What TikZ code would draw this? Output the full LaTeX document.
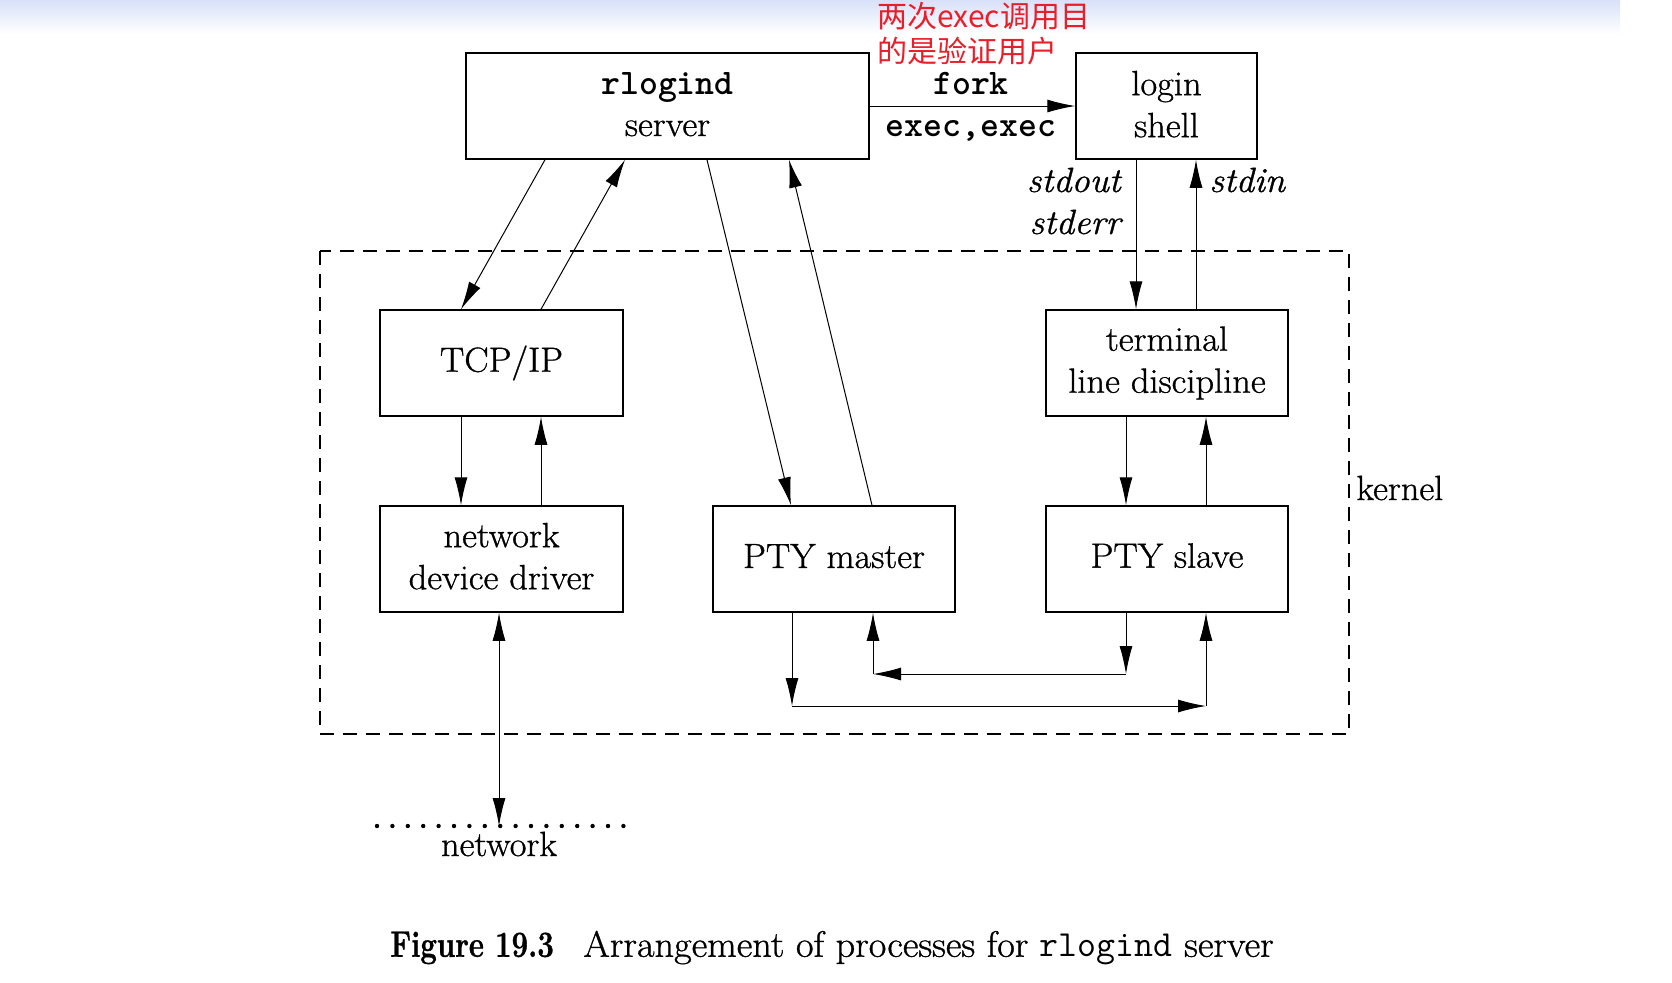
\documentclass[tikz,border=0pt]{standalone}
\usepackage{fontspec}
\setmainfont{Latin Modern Roman}[FakeBold=0.9, FakeStretch=1.04]
\newfontfamily\cjk{Noto Sans CJK SC}
\usetikzlibrary{arrows.meta}
\definecolor{annred}{RGB}{232,30,40}
\definecolor{topblue}{RGB}{216,225,249}
\newcommand\msize{\fontsize{17.5}{21}\selectfont}
\newcommand\codesize{\ttfamily\bfseries\fontsize{18}{21}\selectfont}
\begin{document}
\begin{tikzpicture}[x=0.5pt,y=-0.5pt,
  box/.style={draw, line width=0.75pt, minimum height=53pt, inner sep=0pt, align=center, font=\msize},
  arr/.style={-{Latex[length=14pt,width=6.5pt]}, line width=0.5pt},
  darr/.style={{Latex[length=14pt,width=6.5pt]}-{Latex[length=14pt,width=6.5pt]}, line width=0.5pt},
  lbl/.style={font=\msize, inner sep=0pt},
  kern/.style={draw, line width=0.6pt, dash pattern=on 7pt off 4.5pt}
]
\useasboundingbox (0,0) rectangle (1672,982);
\shade[top color=topblue, bottom color=white] (0,0) rectangle (1620,34);

% boxes
\node[box, minimum width=201.5pt, text depth=2pt] (rl) at (667.5,106) {{\codesize rlogind}\\server};
\node[box, minimum width=90.5pt, text depth=2pt] (ls) at (1166.5,106) {login\\shell};
\node[box, minimum width=121.5pt] (tcp) at (501.5,363) {TCP/IP};
\node[box, minimum width=121.5pt, text depth=3pt] (drv) at (501.5,559) {network\\device driver};
\node[box, minimum width=121pt, text depth=3pt] (pm) at (834,559) {PTY master};
\node[box, minimum width=121pt, text depth=3.5pt] (ps) at (1167,559) {PTY slave};
\node[box, minimum width=121pt] (tld) at (1167,363) {terminal\\line discipline};

% kernel region
\draw[kern] (320,251) rectangle (1349,734);
\node[lbl, anchor=west] (kl) at (1356,488) {kernel};

% annotation and labels
\node[anchor=north west, align=left, text=annred, inner sep=0pt, font=\cjk\fontsize{15}{17.5}\selectfont] (cn) at (877,2) {两次exec调用目\\的是验证用户};
\node[inner sep=0pt, font=\codesize] (fk) at (971,83) {fork};
\node[inner sep=0pt, font=\codesize] (ex) at (971,131) {exec,exec};
\node[lbl, anchor=east, font=\msize\itshape] (so) at (1121,180) {stdout};
\node[lbl, anchor=east, font=\msize\itshape] (se) at (1121,222) {stderr};
\node[lbl, anchor=west, font=\msize\itshape] (si) at (1209,180) {stdin};

% connectors
\draw[arr] (rl.east) -- (ls.west);
\draw[arr] (rl.south -| 545,0) -- (tcp.north -| 461,0);
\draw[arr] (tcp.north -| 541,0) -- (rl.south -| 625,0);
\draw[arr] (rl.south -| 707,0) -- (pm.north -| 791,0);
\draw[arr] (pm.north -| 872,0) -- (rl.south -| 789,0);
\draw[arr] (ls.south -| 1136,0) -- (tld.north -| 1136,0);
\draw[arr] (tld.north -| 1196,0) -- (ls.south -| 1196,0);
\draw[arr] (tcp.south -| 461,0) -- (drv.north -| 461,0);
\draw[arr] (drv.north -| 541,0) -- (tcp.south -| 541,0);
\draw[arr] (tld.south -| 1126,0) -- (ps.north -| 1126,0);
\draw[arr] (ps.north -| 1206,0) -- (tld.south -| 1206,0);

% master <-> slave loops
\coordinate (a1) at (792,706);
\coordinate (a2) at (1206,706);
\draw[arr] (pm.south -| a1) -- (a1);
\draw[arr] (a1) -- (a2);
\draw[arr] (a2) -- (ps.south -| a2);
\coordinate (b1) at (1126,674);
\coordinate (b2) at (873,674);
\draw[arr] (ps.south -| b1) -- (b1);
\draw[arr] (b1) -- (b2);
\draw[arr] (b2) -- (pm.south -| b2);

% network
\coordinate (nl) at (377,826);
\coordinate (nr) at (624,826);
\coordinate (net) at (499,826);
\draw[line width=2.2pt, line cap=round, dash pattern=on 0pt off 7.7pt] (nl) -- (nr);
\draw[darr] (drv.south -| net) -- (net);
\node[lbl] (nw) at (499,844) {network};

% caption
\node[inner sep=0pt, font=\fontsize{18.4}{22}\selectfont] (cap) at (832,948) {{\bfseries\addfontfeature{FakeStretch=0.8}Figure 19.3}\hspace{0.8em}Arrangement of processes for {\ttfamily rlogind} server};
\end{tikzpicture}
\end{document}
